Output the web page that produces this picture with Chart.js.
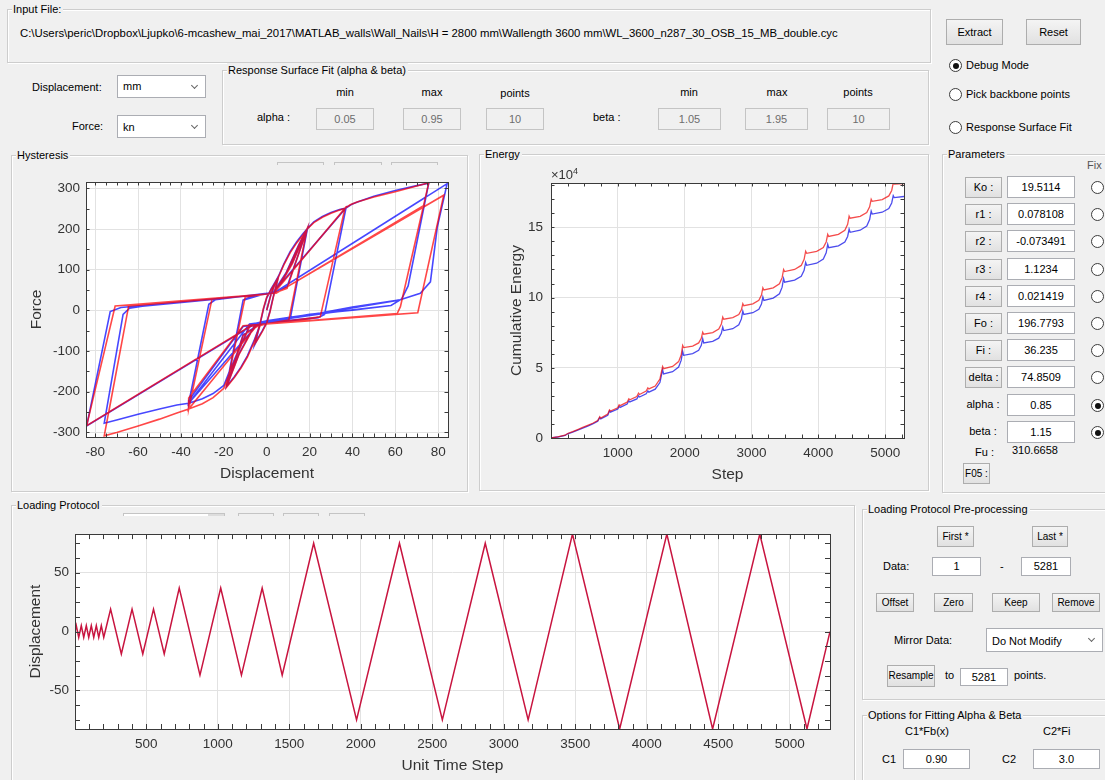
<!DOCTYPE html>
<html>
<head>
<meta charset="utf-8">
<script src="https://cdn.jsdelivr.net/npm/chart.js@4.4.1/dist/chart.umd.min.js"></script>
<style>
  body { margin: 0; background: #f0f0f0; font-family: "Liberation Sans", Arial, sans-serif; font-size: 11px; color: #000; }
  #app { position: relative; width: 1105px; height: 780px; overflow: hidden; }
  .t { position: absolute; white-space: nowrap; line-height: 13px; }
  .c { text-align: center; }
  .panel { position: absolute; border: 1px solid #cdcdcd; box-shadow: inset 1px 1px 0 #fff, 1px 1px 0 #fff; }
  .ptitle { position: absolute; left: 4px; top: -8px; background: #f0f0f0; padding: 0 2px 0 1px; line-height: 14px; white-space: nowrap; }
  .btn { position: absolute; box-sizing: border-box; border: 1px solid #adadad; background: linear-gradient(#f4f4f4, #e1e1e1); text-align: center; white-space: nowrap; }
  .edit { position: absolute; box-sizing: border-box; border: 1px solid #abadb3; background: #fff; text-align: center; white-space: nowrap; }
  .dis { background: #f0f0f0; color: #6d6d6d; border-color: #c4c4c4; }
  .sel { position: absolute; box-sizing: border-box; border: 1px solid #abadb3; background: #fff; padding-left: 5px; white-space: nowrap; }
  .sel::after { content: ''; position: absolute; right: 8px; top: 50%; width: 4px; height: 4px; margin-top: -4px; border-right: 1.5px solid #666; border-bottom: 1.5px solid #666; transform: rotate(45deg); }
  .radio { position: absolute; box-sizing: border-box; width: 13px; height: 13px; border: 1px solid #3c3c3c; border-radius: 50%; background: #fff; }
  .radio.on::after { content: ''; position: absolute; left: 2.5px; top: 2.5px; width: 6px; height: 6px; border-radius: 50%; background: #111; }
  .bar { position: absolute; height: 3px; box-sizing: border-box; border: 1px solid #c4c4c4; border-bottom: none; }
  canvas { position: absolute; }
  .expo { position: absolute; font-size: 13px; color: #333; white-space: nowrap; }
  .expo sup { font-size: 9px; }
</style>
</head>
<body>
<div id="app">

  <!-- input file -->
  <div class="panel" style="left:7px;top:9px;width:922px;height:52px"><span class="ptitle">Input File:</span></div>
  <div class="t" style="left:20px;top:27px;font-size:11.35px">C:\Users\peric\Dropbox\Ljupko\6-mcashew_mai_2017\MATLAB_walls\Wall_Nails\H = 2800 mm\Wallength 3600 mm\WL_3600_n287_30_OSB_15_MB_double.cyc</div>

  <div class="btn" style="left:946px;top:19px;width:57px;height:26px;line-height:24px">Extract</div>
  <div class="btn" style="left:1026px;top:19px;width:55px;height:26px;line-height:24px">Reset</div>
  <div class="radio on" style="left:949px;top:59px"></div><div class="t" style="left:966px;top:59px">Debug Mode</div>
  <div class="radio" style="left:949px;top:88px"></div><div class="t" style="left:966px;top:88px">Pick backbone points</div>
  <div class="radio" style="left:949px;top:121px"></div><div class="t" style="left:966px;top:121px">Response Surface Fit</div>

  <div class="t" style="left:32px;top:81px">Displacement:</div>
  <div class="sel" style="left:117px;top:75px;width:89px;height:23px;line-height:21px">mm</div>
  <div class="t" style="left:72px;top:120px">Force:</div>
  <div class="sel" style="left:117px;top:115px;width:89px;height:23px;line-height:23px">kn</div>

  <!-- response surface fit -->
  <div class="panel" style="left:222px;top:70px;width:705px;height:73px"><span class="ptitle">Response Surface Fit (alpha &amp; beta)</span></div>
  <div class="t c" style="left:315px;top:86px;width:60px">min</div>
  <div class="t c" style="left:402px;top:86px;width:60px">max</div>
  <div class="t c" style="left:485px;top:87px;width:60px">points</div>
  <div class="t c" style="left:659px;top:86px;width:60px">min</div>
  <div class="t c" style="left:747px;top:86px;width:60px">max</div>
  <div class="t c" style="left:828px;top:86px;width:60px">points</div>
  <div class="t" style="left:257px;top:111px">alpha :</div>
  <div class="edit dis" style="left:316px;top:108px;width:58px;height:22px;line-height:20px">0.05</div>
  <div class="edit dis" style="left:403px;top:108px;width:58px;height:22px;line-height:20px">0.95</div>
  <div class="edit dis" style="left:486px;top:108px;width:58px;height:22px;line-height:20px">10</div>
  <div class="t" style="left:593px;top:111px">beta :</div>
  <div class="edit dis" style="left:658px;top:108px;width:63px;height:22px;line-height:20px">1.05</div>
  <div class="edit dis" style="left:745px;top:108px;width:63px;height:22px;line-height:20px">1.95</div>
  <div class="edit dis" style="left:827px;top:108px;width:63px;height:22px;line-height:20px">10</div>

  <!-- plot panels -->
  <div class="panel" style="left:11px;top:155px;width:455px;height:335px"><span class="ptitle">Hysteresis</span></div>
  <div class="bar" style="left:277px;top:162px;width:47px"></div>
  <div class="bar" style="left:334px;top:162px;width:48px"></div>
  <div class="bar" style="left:391px;top:162px;width:47px"></div>
  <div class="panel" style="left:479px;top:154px;width:448px;height:335px"><span class="ptitle">Energy</span></div>
  <div class="panel" style="left:11px;top:505px;width:842px;height:280px"><span class="ptitle">Loading Protocol</span></div>
  <div class="bar" style="left:123px;top:513px;width:102px;background:linear-gradient(90deg,#fff 84%,#ddd 84%)"></div>
  <div class="bar" style="left:238px;top:513px;width:36px"></div>
  <div class="bar" style="left:283px;top:513px;width:36px"></div>
  <div class="bar" style="left:329px;top:513px;width:36px"></div>

  <canvas id="hystChart" width="454" height="322" style="left:12px;top:165px"></canvas>
  <canvas id="energyChart" width="446" height="322" style="left:480px;top:165px"></canvas>
  <canvas id="protocolChart" width="838" height="258" style="left:12px;top:520px"></canvas>
  <div class="expo" style="left:551px;top:166px">&times;10<sup>4</sup></div>

  <!-- parameters -->
  <div class="panel" style="left:942px;top:154px;width:175px;height:337px"><span class="ptitle">Parameters</span></div>
  <div class="t" style="left:1087px;top:159px;color:#555">Fix</div>
  <div id="paramRows"></div>
  <div class="t" style="left:975px;top:446px">Fu :</div>
  <div class="t" style="left:1012px;top:444px">310.6658</div>
  <div class="btn" style="left:963px;top:463px;width:27px;height:21px;line-height:19px;font-size:10px">F05 :</div>

  <!-- loading protocol pre-processing -->
  <div class="panel" style="left:862px;top:509px;width:250px;height:189px"><span class="ptitle">Loading Protocol Pre-processing</span></div>
  <div class="btn" style="left:937px;top:526px;width:37px;height:21px;line-height:19px;font-size:10px">First *</div>
  <div class="btn" style="left:1032px;top:526px;width:36px;height:21px;line-height:19px;font-size:10px">Last *</div>
  <div class="t" style="left:883px;top:560px">Data:</div>
  <div class="edit" style="left:932px;top:557px;width:49px;height:19px;line-height:17px">1</div>
  <div class="t" style="left:1000px;top:560px">-</div>
  <div class="edit" style="left:1021px;top:557px;width:50px;height:19px;line-height:17px">5281</div>
  <div class="btn" style="left:876px;top:593px;width:38px;height:19px;line-height:17px;font-size:10px">Offset</div>
  <div class="btn" style="left:934px;top:593px;width:39px;height:19px;line-height:17px;font-size:10px">Zero</div>
  <div class="btn" style="left:992px;top:593px;width:48px;height:19px;line-height:17px;font-size:10px">Keep</div>
  <div class="btn" style="left:1052px;top:593px;width:48px;height:19px;line-height:17px;font-size:10px">Remove</div>
  <div class="t" style="left:894px;top:634px">Mirror Data:</div>
  <div class="sel" style="left:986px;top:628px;width:117px;height:24px;line-height:24px">Do Not Modify</div>
  <div class="btn" style="left:887px;top:665px;width:48px;height:22px;line-height:20px;font-size:10px">Resample</div>
  <div class="t" style="left:945px;top:669px">to</div>
  <div class="edit" style="left:960px;top:668px;width:48px;height:18px;line-height:16px">5281</div>
  <div class="t" style="left:1014px;top:669px">points.</div>

  <div class="panel" style="left:862px;top:715px;width:250px;height:70px"><span class="ptitle">Options for Fitting Alpha &amp; Beta</span></div>
  <div class="t" style="left:905px;top:725px">C1*Fb(x)</div>
  <div class="t" style="left:1043px;top:725px">C2*Fi</div>
  <div class="t" style="left:882px;top:753px">C1</div>
  <div class="edit" style="left:903px;top:749px;width:67px;height:20px;line-height:18px">0.90</div>
  <div class="t" style="left:1002px;top:753px">C2</div>
  <div class="edit" style="left:1033px;top:749px;width:67px;height:20px;line-height:18px">3.0</div>
</div>

<script>
// ---- parameter table (GUI values) ----
const paramNames = ['Ko :', 'r1 :', 'r2 :', 'r3 :', 'r4 :', 'Fo :', 'Fi :', 'delta :', 'alpha :', 'beta :'];
const paramValues = ['19.5114', '0.078108', '-0.073491', '1.1234', '0.021419', '196.7793', '36.235', '74.8509', '0.85', '1.15'];
const paramFixed = [false, false, false, false, false, false, false, false, true, true];

// ---- hysteresis: displacement / force paths ----
const hystXTicks = [-80, -60, -40, -20, 0, 20, 40, 60, 80];
const hystYTicks = [-300, -200, -100, 0, 100, 200, 300];

const hystBlue = [
  [0, 0], [2, 40], [4, 68], [5.5, 84], [3, 32], [1.5, -3], [0, -30], [-2, -50], [-4, -68], [-5.5, -84], [-3, -32], [-1.5, 3], [0, 30], [2, 52], [4, 70], [5.5, 84],
  [8, 114], [11, 145], [14, 169], [17, 189], [19, 201], [11, -20], [5, -26], [0, -30], [-3, -34],
  [-6, -76], [-9, -112], [-12, -140], [-15, -163], [-18.8, -188], [-11, 25], [-8, 32], [0, 42], [3, 44],
  [9.5, 58], [19, 201], [11, -20], [0, -30], [-4, -36], [-11, -60], [-18.8, -188], [-11, 25], [0, 42], [3, 44],
  [6, 62], [12, 118], [19, 201], [11, -20], [0, -30], [-6, -40], [-13, -108], [-18.8, -188], [-11, 25], [0, 42], [3, 44],
  [9, 92], [15, 162], [19, 201], [22, 218], [26, 231], [30, 241], [34, 248], [37, 252],
  [27, -10], [24, -18], [10, -26], [0, -30], [-8, -38], [-13, -96], [-17, -145], [-20, -185], [-25, -205], [-30, -218], [-36.4, -229],
  [-27, 15], [-24, 26], [0, 42], [3, 44], [37, 252], [27, -10], [24, -18], [0, -30], [-4, -33], [-36.4, -229],
  [-27, 15], [-24, 26], [0, 42], [3, 44], [37, 252], [27, -10], [24, -18], [0, -30], [-11, -40], [-36.4, -222], [-36.4, -229],
  [-27, 15], [-24, 26], [0, 42], [3, 44], [37, 252],
  [40, 262], [43, 268], [50, 281], [60, 295], [70, 307], [75.6, 313],
  [66, 60], [63, 28], [58, 12], [40, 0], [20, -10], [0, -28], [-8, -34], [-36.4, -229],
  [-41.9, -233], [-50, -243], [-60, -256], [-70, -270], [-75.8, -278],
  [-67, -10], [-64, 5], [-58, 10], [-30, 24], [0, 40], [3.5, 43.5],
  [74.3, 279], [66, 60], [63, 28], [58, 12], [30, -5], [0, -28], [-5, -32], [-75.1, -256.5], [-67, -10], [-64, 5], [-58, 10], [-30, 24], [0, 40], [3.5, 43.5],
  [74.3, 279], [66, 60], [63, 28], [58, 12], [30, -5], [0, -28], [-5, -32], [-75.1, -256.5], [-67, -10], [-64, 5], [-58, 10], [0, 40], [3.5, 43.5],
  [84.2, 312], [79.6, 205], [76.4, 70], [71.7, 42], [61.6, 25], [40, 8], [25, -7], [10, -18], [0, -26], [-5, -32],
  [-84, -285], [-73, -3], [-68, 7], [-40, 20], [0, 40], [3.5, 43.5],
  [84.2, 312], [79.6, 205], [76.4, 70], [71.7, 42], [61.6, 25], [25, -7], [0, -26], [-5, -32], [-84, -285], [-73, -3], [-68, 7], [0, 40], [3.5, 43.5],
  [84.2, 312], [79.6, 205], [76.4, 70], [71.7, 42], [61.6, 25], [25, -7], [0, -26], [-5, -32], [-84, -285], [-73, -3], [-68, 7], [-40, 20], [0, 40]
];

const hystRed = [
  [0, 0], [2, 38], [4, 66], [5.5, 82], [3, 30], [1.5, -5], [0, -32], [-2, -52], [-4, -70], [-5.5, -82], [-3, -30], [-1.5, 5], [0, 32], [2, 50], [4, 68], [5.5, 82],
  [8, 112], [11, 142], [14, 166], [17, 186], [18.8, 200], [10.3, -24], [0, -33], [-3, -36],
  [-6, -80], [-9, -115], [-12, -142], [-15, -165], [-18.8, -190], [-10, 33], [0, 40], [3.3, 42],
  [9.5, 54], [18.8, 200], [10.3, -24], [0, -33], [-4, -38], [-11, -62], [-18.8, -190], [-10, 33], [0, 40], [3.3, 42],
  [6, 60], [12, 115], [18.8, 200], [10.3, -24], [0, -33], [-6, -42], [-13, -110], [-18.8, -190], [-10, 33], [0, 40], [3.3, 42],
  [9, 90], [15, 160], [18.8, 200], [22, 216], [26, 229], [30, 239], [34, 247], [36.5, 251],
  [25, -16], [10, -29], [0, -33], [-8, -40], [-13, -100], [-17, -150], [-20, -192], [-25, -215], [-30, -230], [-36.4, -243],
  [-25.5, 28], [0, 40], [3.3, 42], [36.5, 251], [25, -16], [0, -33], [-4.2, -35], [-36.4, -243],
  [-25.5, 28], [0, 40], [3.3, 42], [36.5, 251], [25, -16], [0, -33], [-11, -38], [-15.4, -69], [-36.4, -216], [-36.4, -243],
  [-25.5, 28], [0, 40], [3.3, 42], [36.5, 251],
  [39, 260], [42.2, 267], [50, 279], [60, 292], [70, 306], [75.6, 314],
  [62.4, 9], [60.9, -8], [30, -21], [0, -33.6], [-4.2, -35], [-36.4, -243],
  [-41.9, -253], [-50, -268], [-60, -285], [-70, -301], [-75.8, -309],
  [-64.4, 10.7], [-24.7, 28], [0, 40], [4.4, 41.8],
  [73.2, 258], [62.4, 9], [60.9, -8], [0, -33.6], [-6.8, -36.3], [-73.7, -251], [-64.4, 10.7], [-24.7, 28], [0, 40], [4.4, 41.8],
  [73.2, 258], [62.4, 9], [60.9, -8], [0, -33.6], [-6.8, -36.3], [-73.7, -251], [-64.4, 10.7], [0, 40], [4.4, 41.8],
  [82.6, 283.5], [70.5, -6], [40, -18], [0, -33.6], [-6.8, -36.3], [-84, -284], [-70.7, 10.7], [-40, 23], [0, 40], [4.4, 41.8],
  [82.6, 283.5], [70.5, -6], [0, -33.6], [-6.8, -36.3], [-84, -284], [-70.7, 10.7], [0, 40], [4.4, 41.8],
  [82.6, 283.5], [70.5, -6], [0, -33.6], [-6.8, -36.3], [-84, -284], [-70.7, 10.7], [-24.7, 28], [0, 40]
];

// ---- cumulative energy (values in units of 10^4) ----
const energyXTicks = [1000, 2000, 3000, 4000, 5000];
const energyYTicks = [0, 5, 10, 15];
const energyStep = [
  1, 100, 212, 250, 325, 400, 475, 550, 625, 700,
  730, 745, 850, 875, 890, 1000, 1020, 1035, 1140, 1165, 1180, 1285, 1310, 1325, 1425, 1450, 1465, 1560, 1630,
  1670, 1685, 1820, 1910, 1949,
  1970, 1985, 2120, 2210, 2249,
  2270, 2285, 2420, 2510, 2549,
  2570, 2585, 2720, 2810, 2849,
  2870, 2885, 3020, 3110, 3149,
  3170, 3185, 3325, 3418, 3458,
  3480, 3495, 3645, 3744, 3787,
  3810, 3825, 3975, 4074, 4117,
  4140, 4155, 4300, 4396, 4438,
  4460, 4475, 4625, 4724, 4767,
  4790, 4805, 4955, 5054, 5097,
  5120, 5135, 5281
];
const energyRed = [
  0, 0.08, 0.2, 0.32, 0.45, 0.6, 0.75, 0.9, 1.05, 1.25,
  1.52, 1.42, 1.7, 2.0, 1.92, 2.15, 2.36, 2.3, 2.55, 2.79, 2.72, 2.95, 3.19, 3.1, 3.35, 3.57, 3.5, 3.7, 4.2,
  5.09, 4.94, 5.1, 5.44, 5.93,
  6.59, 6.44, 6.55, 6.77, 7.1,
  7.54, 7.39, 7.51, 7.76, 8.12,
  8.61, 8.46, 8.57, 8.79, 9.13,
  9.57, 9.42, 9.55, 9.8, 10.18,
  10.69, 10.54, 10.69, 10.98, 11.42,
  12.0, 11.85, 12.0, 12.29, 12.72,
  13.3, 13.15, 13.29, 13.56, 13.96,
  14.5, 14.35, 14.5, 14.79, 15.22,
  15.8, 15.65, 15.79, 16.06, 16.46,
  17.0, 16.85, 16.98, 17.24, 17.63,
  18.15, 18.08, 18.12
];
const energyBlue = [
  0, 0.07, 0.18, 0.3, 0.42, 0.56, 0.7, 0.85, 1.0, 1.2,
  1.45, 1.36, 1.62, 1.92, 1.84, 2.06, 2.25, 2.18, 2.42, 2.65, 2.57, 2.78, 3.0, 2.92, 3.15, 3.35, 3.27, 3.48, 3.95,
  4.86, 4.56, 4.72, 5.05, 5.54,
  6.19, 5.89, 6.01, 6.24, 6.6,
  7.07, 6.77, 6.88, 7.11, 7.45,
  7.9, 7.65, 7.78, 8.06, 8.48,
  9.04, 8.8, 8.92, 9.17, 9.54,
  10.04, 9.8, 9.96, 10.27, 10.74,
  11.36, 11.1, 11.24, 11.52, 11.94,
  12.5, 12.3, 12.45, 12.75, 13.19,
  13.79, 13.55, 13.68, 13.95, 14.35,
  14.88, 14.65, 14.8, 15.1, 15.56,
  16.16, 15.95, 16.08, 16.34, 16.74,
  17.26, 17.12, 17.2
];

// ---- loading protocol (turning points) ----
const protoXTicks = [500, 1000, 1500, 2000, 2500, 3000, 3500, 4000, 4500, 5000];
const protoYTicks = [-50, 0, 50];
const protoStep = [
  1, 10, 27, 45, 62, 80, 97, 115, 132, 150, 167, 185, 202, 212,
  250, 325, 400, 475, 550, 625,
  730, 875, 1020, 1165, 1310, 1450,
  1670, 1970, 2270, 2570, 2870, 3170,
  3480, 3810, 4140, 4460, 4790, 5120, 5281
];
const protoDisp = [
  0, 5, -5, 5, -5, 5, -5, 5, -5, 5, -5, 5, -5, 0,
  19, -19, 19, -19, 19, -19,
  37, -37, 37, -37, 37, -37,
  75, -75, 75, -75, 75, -75,
  82.8, -82.8, 82.8, -82.8, 82.8, -82.8, 0
];

// ---- GUI rows for the parameter panel ----
const paramRowY = [187, 214, 241, 269, 296, 323, 350, 377, 405, 432];
(function buildParams() {
  const host = document.getElementById('paramRows');
  let html = '';
  paramNames.forEach((name, i) => {
    const y = paramRowY[i];
    if (i < 8) {
      html += `<div class="btn" style="left:965px;top:${y - 10}px;width:37px;height:21px;line-height:19px">${name}</div>`;
    } else {
      html += `<div class="t c" style="left:960px;top:${y - 7}px;width:46px">${name}</div>`;
    }
    html += `<div class="edit" style="left:1007px;top:${y - 11}px;width:68px;height:22px;line-height:20px">${paramValues[i]}</div>`;
    html += `<div class="radio${paramFixed[i] ? ' on' : ''}" style="left:1091px;top:${y - 6}px"></div>`;
  });
  host.innerHTML = html;
})();

// ---- MATLAB-like axes box with inward ticks ----
function stepValues(min, max, step) {
  const out = [];
  for (let v = Math.ceil(min / step - 1e-9) * step; v <= max + 1e-9; v += step) out.push(v);
  return out;
}

const matlabAxes = {
  id: 'matlabAxes',
  beforeDraw(chart) {
    const { ctx, chartArea: a } = chart;
    ctx.save();
    ctx.fillStyle = '#fff';
    ctx.fillRect(a.left, a.top, a.right - a.left, a.bottom - a.top);
    ctx.restore();
  },
  afterDatasetsDraw(chart, args, opts) {
    const { ctx, chartArea: a, scales } = chart;
    const len = opts.tickLen;
    ctx.save();
    ctx.strokeStyle = '#3a3a3a';
    ctx.lineWidth = 1;
    ctx.beginPath();
    stepValues(scales.x.min, scales.x.max, opts.xMinor).forEach(v => {
      const px = Math.round(scales.x.getPixelForValue(v)) + 0.5;
      ctx.moveTo(px, a.bottom); ctx.lineTo(px, a.bottom - len);
      ctx.moveTo(px, a.top); ctx.lineTo(px, a.top + len);
    });
    stepValues(scales.y.min, scales.y.max, opts.yMinor).forEach(v => {
      const py = Math.round(scales.y.getPixelForValue(v)) + 0.5;
      ctx.moveTo(a.left, py); ctx.lineTo(a.left + len, py);
      ctx.moveTo(a.right, py); ctx.lineTo(a.right - len, py);
    });
    ctx.stroke();
    ctx.strokeRect(Math.round(a.left) + 0.5, Math.round(a.top) + 0.5,
      Math.round(a.right) - Math.round(a.left), Math.round(a.bottom) - Math.round(a.top));
    ctx.restore();
  }
};

const tickFont = { family: '"Liberation Sans", Arial, sans-serif', size: 13.5 };
const titleFont = { family: '"Liberation Sans", Arial, sans-serif', size: 15.5 };
const textColor = '#333';
const gridColor = '#e2e2e2';

function axis(o) {
  return {
    type: 'linear',
    min: o.min,
    max: o.max,
    afterBuildTicks(scale) { scale.ticks = o.ticks.map(v => ({ value: v })); },
    afterFit(scale) {
      if (o.size.w) scale.width = o.size.w;
      if (o.size.h) scale.height = o.size.h;
    },
    grid: { color: gridColor, drawTicks: false, lineWidth: 1 },
    border: { display: false },
    ticks: {
      autoSkip: false, maxRotation: 0, padding: o.tickPad, color: textColor, font: tickFont,
      callback: v => String(v)
    },
    title: { display: true, text: o.title, color: textColor, font: titleFont, padding: o.titlePad }
  };
}

function pts(pairs) { return pairs.map(p => ({ x: p[0], y: p[1] })); }

// Hysteresis
new Chart(document.getElementById('hystChart'), {
  type: 'scatter',
  data: {
    datasets: [
      { label: 'Red', data: pts(hystRed), showLine: true, borderColor: 'rgba(255,0,0,0.72)', borderWidth: 1.6, pointRadius: 0, order: 1 },
      { label: 'Blue', data: pts(hystBlue), showLine: true, borderColor: 'rgba(0,0,255,0.72)', borderWidth: 1.6, pointRadius: 0, order: 2 }
    ]
  },
  options: {
    responsive: false, animation: false, events: [],
    layout: { padding: { left: 0, top: 17, right: 18, bottom: 0 } },
    plugins: { legend: { display: false }, tooltip: { enabled: false }, matlabAxes: { tickLen: 3.5, xMinor: 5, yMinor: 50 } },
    scales: {
      x: axis({ min: -84.3, max: 84.6, ticks: hystXTicks, size: { h: 50 }, tickPad: 7, title: 'Displacement', titlePad: { bottom: 3.5 } }),
      y: axis({ min: -312, max: 316, ticks: hystYTicks, size: { w: 74 }, tickPad: 6, title: 'Force', titlePad: { top: 15.7 } })
    }
  },
  plugins: [matlabAxes]
});

// Energy
new Chart(document.getElementById('energyChart'), {
  type: 'scatter',
  data: {
    datasets: [
      { label: 'Red', data: energyStep.map((s, i) => ({ x: s, y: energyRed[i] })), showLine: true, borderColor: 'rgba(240,0,0,0.7)', borderWidth: 1.3, pointRadius: 0, order: 1 },
      { label: 'Blue', data: energyStep.map((s, i) => ({ x: s, y: energyBlue[i] })), showLine: true, borderColor: 'rgba(0,0,230,0.7)', borderWidth: 1.3, pointRadius: 0, order: 2 }
    ]
  },
  options: {
    responsive: false, animation: false, events: [],
    layout: { padding: { left: 0, top: 18, right: 22, bottom: 0 } },
    plugins: { legend: { display: false }, tooltip: { enabled: false }, matlabAxes: { tickLen: 3.5, xMinor: 250, yMinor: 1 } },
    scales: {
      x: axis({ min: 1, max: 5281, ticks: energyXTicks, size: { h: 49 }, tickPad: 7, title: 'Step', titlePad: { bottom: 2.7 } }),
      y: axis({ min: 0, max: 18.16, ticks: energyYTicks, size: { w: 71 }, tickPad: 8, title: 'Cumulative Energy', titlePad: { top: 27.7 } })
    }
  },
  plugins: [matlabAxes]
});

// Loading protocol
new Chart(document.getElementById('protocolChart'), {
  type: 'scatter',
  data: {
    datasets: [
      { label: 'Displacement', data: protoStep.map((s, i) => ({ x: s, y: protoDisp[i] })), showLine: true, borderColor: '#c8143f', borderWidth: 1.5, pointRadius: 0 }
    ]
  },
  options: {
    responsive: false, animation: false, events: [],
    layout: { padding: { left: 0, top: 10, right: 20, bottom: 0 } },
    plugins: { legend: { display: false }, tooltip: { enabled: false }, matlabAxes: { tickLen: 5, xMinor: 100, yMinor: 12.5 } },
    scales: {
      x: axis({ min: 1, max: 5281, ticks: protoXTicks, size: { h: 49 }, tickPad: 7, title: 'Unit Time Step', titlePad: { bottom: 2.7 } }),
      y: axis({ min: -82.8, max: 82.8, ticks: protoYTicks, size: { w: 63 }, tickPad: 6, title: 'Displacement', titlePad: { top: 14.4 } })
    }
  },
  plugins: [matlabAxes]
});
</script>
</body>
</html>
